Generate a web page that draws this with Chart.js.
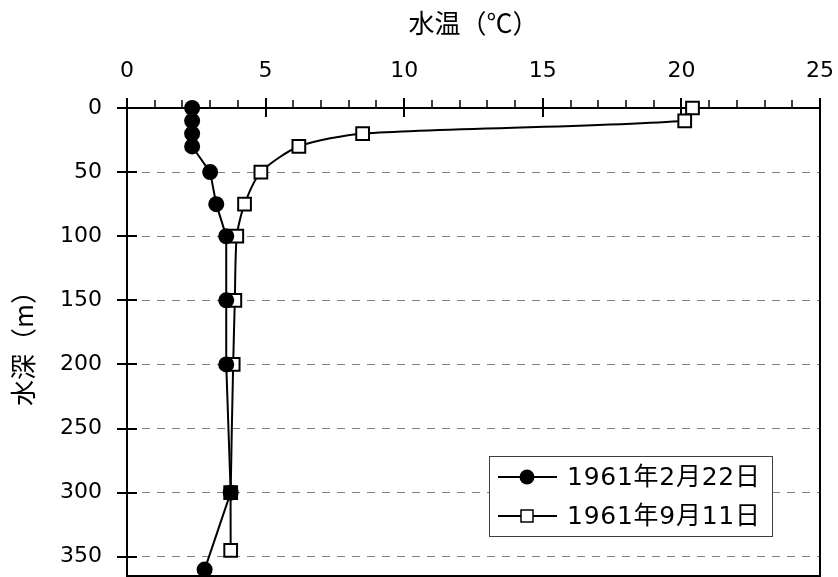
<!DOCTYPE html>
<html>
<head>
<meta charset="utf-8">
<script src="https://cdn.jsdelivr.net/npm/chart.js@4/dist/chart.umd.min.js"></script>
<style>
html,body{margin:0;padding:0;background:#fff;}
#wrap{width:838px;height:577px;position:relative;}
</style>
</head>
<body>
<div id="wrap"><canvas id="c" width="838" height="577"></canvas></div>
<script>
// Data (depth in m, temperature in °C)
const seriesNames = ['1961年2月22日', '1961年9月11日'];
const febDepth = [0, 10, 20, 30, 50, 75, 100, 150, 200, 300, 360];
const febTemp  = [2.35, 2.35, 2.35, 2.35, 3.0, 3.22, 3.58, 3.58, 3.58, 3.74, 2.8];
const sepDepth = [0, 10, 20, 30, 50, 75, 100, 150, 200, 300, 345];
const sepTemp  = [20.4, 20.12, 8.5, 6.2, 4.83, 4.24, 3.96, 3.89, 3.83, 3.74, 3.74];
const xTicksMajor = [0, 5, 10, 15, 20, 25];
const yTicks = [0, 50, 100, 150, 200, 250, 300, 350];

const CJK = '"Noto Sans CJK JP", "Noto Sans CJK SC", sans-serif';
const NUM = '"DejaVu Sans", "Noto Sans CJK JP", sans-serif';

function pts(xs, ys) { return xs.map((x, i) => ({x: x, y: ys[i]})); }

const frameTicks = {
  id: 'frameTicks',
  beforeDatasetsDraw(chart) {
    const {ctx, chartArea: a, scales: {x, y}} = chart;
    ctx.save();
    ctx.strokeStyle = '#000';
    for (let v = 0; v <= 25; v++) {
      const px = Math.round(x.getPixelForValue(v));
      ctx.beginPath();
      if (v % 5 === 0) { ctx.lineWidth = 2; ctx.moveTo(px, a.top - 10); ctx.lineTo(px, a.top + 9); }
      else { ctx.lineWidth = 1.5; ctx.moveTo(px, a.top - 8); ctx.lineTo(px, a.top); }
      ctx.stroke();
    }
    ctx.lineWidth = 2;
    yTicks.forEach(v => {
      const py = Math.round(y.getPixelForValue(v));
      ctx.beginPath(); ctx.moveTo(a.left - 10, py); ctx.lineTo(a.left + 10, py); ctx.stroke();
    });
    ctx.lineWidth = 2;
    ctx.strokeRect(a.left, a.top, a.right - a.left, a.bottom - a.top);
    ctx.restore();
  }
};

function drawSpaced(ctx, text, x, y, targetW) {
  const chars = Array.from(text);
  let w = 0; const ws = chars.map(c => { const m = ctx.measureText(c).width; w += m; return m; });
  const sp = (targetW - w) / (chars.length - 1);
  let cx = x;
  chars.forEach((c, i) => { ctx.fillText(c, cx, y); cx += ws[i] + sp; });
}

const legendBox = {
  id: 'legendBox',
  afterDatasetsDraw(chart) {
    const ctx = chart.ctx;
    const bx = 489, by = 456, bw = 283, bh = 80;
    ctx.save();
    ctx.fillStyle = '#fff';
    ctx.fillRect(bx, by, bw, bh);
    ctx.strokeStyle = '#404040'; ctx.lineWidth = 1;
    ctx.strokeRect(bx + 0.5, by + 0.5, bw, bh);
    const rows = [477, 516];
    rows.forEach((ry, i) => {
      ctx.strokeStyle = '#000'; ctx.lineWidth = 2;
      ctx.beginPath(); ctx.moveTo(498, ry); ctx.lineTo(557, ry); ctx.stroke();
      if (i === 0) {
        ctx.fillStyle = '#000';
        ctx.beginPath(); ctx.arc(527, ry, 7.5, 0, Math.PI * 2); ctx.fill();
      } else {
        ctx.fillStyle = '#fff'; ctx.lineWidth = 1.5;
        ctx.fillRect(521, ry - 6, 12, 12); ctx.strokeRect(521, ry - 6, 12, 12);
      }
      ctx.fillStyle = '#000';
      ctx.font = '25px ' + NUM;
      ctx.textBaseline = 'middle';
      ctx.textAlign = 'left';
      drawSpaced(ctx, seriesNames[i], 567, ry + 1, 193);
    });
    ctx.restore();
  }
};

function zeroPad(s) { s.paddingLeft = 0; s.paddingRight = 0; s.paddingTop = 0; s.paddingBottom = 0; }

new Chart(document.getElementById('c'), {
  type: 'scatter',
  data: {
    datasets: [
      {
        label: seriesNames[0],
        data: pts(febTemp, febDepth),
        showLine: true,
        borderColor: '#000', borderWidth: 2,
        pointStyle: 'circle', pointRadius: 8, pointBorderWidth: 0,
        pointBackgroundColor: '#000', pointBorderColor: '#000',
        tension: 0
      },
      {
        label: seriesNames[1],
        data: pts(sepTemp, sepDepth),
        showLine: true,
        borderColor: '#000', borderWidth: 2,
        pointStyle: 'rect', pointRadius: 9, pointBorderWidth: 2,
        pointBackgroundColor: '#fff', pointBorderColor: '#000',
        tension: 0.25
      }
    ]
  },
  options: {
    responsive: false,
    animation: false,
    clip: false,
    layout: {autoPadding: false, padding: {left: 0, right: 18, top: 0, bottom: 1}},
    plugins: {legend: {display: false}, tooltip: {enabled: false}},
    scales: {
      x: {
        type: 'linear', position: 'top', min: 0, max: 25,
        afterFit(s) { s.height = 108; zeroPad(s); },
        grid: {display: false, drawTicks: false},
        border: {display: false},
        ticks: {
          stepSize: 1, autoSkip: false, maxRotation: 0, padding: 24,
          color: '#000', font: {family: NUM, size: 22},
          callback: v => (xTicksMajor.includes(v) ? String(v) : '')
        },
        title: {display: true, text: '水温（℃）', color: '#000',
          font: {family: CJK, size: 26}, padding: {top: 8, bottom: 0}}
      },
      y: {
        type: 'linear', reverse: true, min: 0, max: 365,
        afterFit(s) { s.width = 127; zeroPad(s); },
        afterBuildTicks(s) { s.ticks = yTicks.map(v => ({value: v})); },
        grid: {color: '#808080', lineWidth: 1, drawTicks: false},
        border: {display: false, dash: [8, 7]},
        ticks: {padding: 25, color: '#000', font: {family: NUM, size: 22}},
        title: {display: true, text: '水深（m）', color: '#000',
          font: {family: CJK, size: 26}, padding: {top: 8, bottom: 0}}
      }
    }
  },
  plugins: [frameTicks, legendBox]
});
</script>
</body>
</html>
